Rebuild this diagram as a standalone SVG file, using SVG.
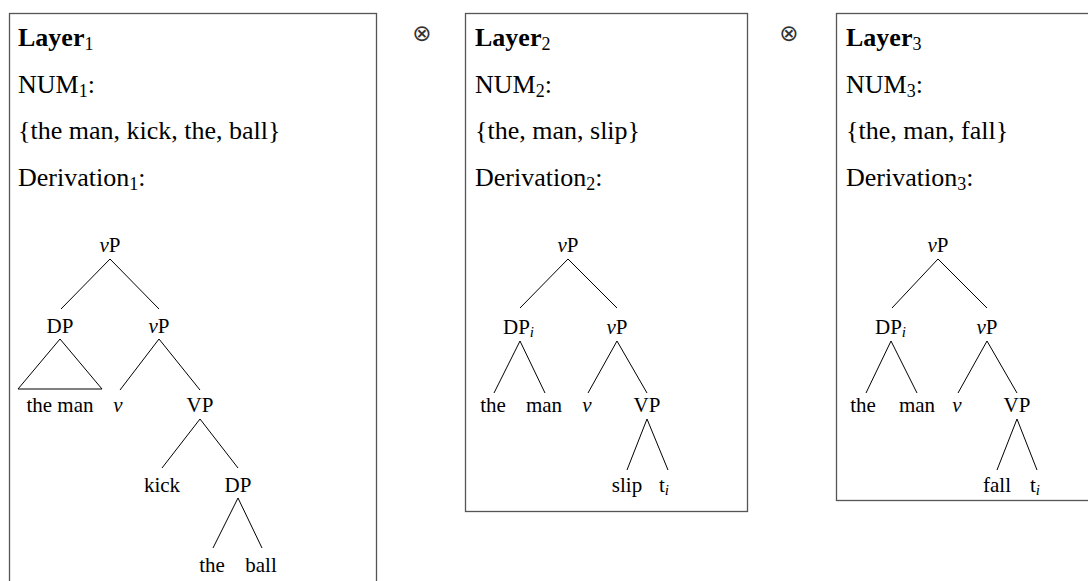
<svg xmlns="http://www.w3.org/2000/svg" width="1088" height="581" viewBox="0 0 1088 581">
<style>
.box{fill:none;stroke:#555;stroke-width:1.3}
.hd{font-family:"Liberation Serif","Times New Roman",serif;font-size:26px;fill:#000}
.b{font-weight:bold}
.sub{font-size:18px;font-weight:normal}
.lb{font-family:"Liberation Serif","Times New Roman",serif;font-size:21px;fill:#000;text-anchor:middle}
.lbs{font-family:"Liberation Serif","Times New Roman",serif;font-size:21px;fill:#000}
.it{font-style:italic}
.si{font-size:15px;font-style:italic}
.ot{font-family:"DejaVu Sans",sans-serif;font-size:23px;fill:#333;text-anchor:middle}
.ln{stroke:#000;stroke-width:1;fill:none}
</style>
<rect width="1088" height="581" fill="#fff"/>

<g id="layer1">
<rect class="box" x="9.5" y="13.5" width="367" height="600"/>
<text class="hd" x="18" y="46"><tspan class="b">Layer</tspan><tspan class="sub" dy="4">1</tspan></text>
<text class="hd" x="18" y="93">NUM<tspan class="sub" dy="4">1</tspan><tspan dy="-4">:</tspan></text>
<text class="hd" x="18" y="139">{the man, kick, the, ball}</text>
<text class="hd" x="18" y="186">Derivation<tspan class="sub" dy="4">1</tspan><tspan dy="-4">:</tspan></text>
<g id="t1-vP"><text class="lb" x="110" y="252"><tspan class="it">v</tspan>P</text></g>
<g id="t1-DP"><text class="lb" x="60" y="333">DP</text></g>
<g id="t1-vP2"><text class="lb" x="159" y="333"><tspan class="it">v</tspan>P</text></g>
<g id="t1-theman"><text class="lb" x="60" y="412">the man</text></g>
<g id="t1-v"><text class="lb it" x="118" y="412">v</text></g>
<g id="t1-VP"><text class="lb" x="200" y="412">VP</text></g>
<g id="t1-kick"><text class="lb" x="162" y="492">kick</text></g>
<g id="t1-DP2"><text class="lb" x="238" y="492">DP</text></g>
<g id="t1-the"><text class="lb" x="212" y="572">the</text></g>
<g id="t1-ball"><text class="lb" x="261" y="572">ball</text></g>
</g>

<g id="op1"><text class="ot" x="422" y="41">⊗</text></g>

<g id="layer2">
<rect class="box" x="465.5" y="13.5" width="282" height="498"/>
<text class="hd" x="475" y="46"><tspan class="b">Layer</tspan><tspan class="sub" dy="4">2</tspan></text>
<text class="hd" x="475" y="93">NUM<tspan class="sub" dy="4">2</tspan><tspan dy="-4">:</tspan></text>
<text class="hd" x="475" y="139">{the, man, slip}</text>
<text class="hd" x="475" y="186">Derivation<tspan class="sub" dy="4">2</tspan><tspan dy="-4">:</tspan></text>
<g id="t2-vP"><text class="lb" x="568" y="252"><tspan class="it">v</tspan>P</text></g>
<g id="t2-DPi"><text class="lbs" x="503" y="334">DP<tspan class="si" dy="3">i</tspan></text></g>
<g id="t2-vP2"><text class="lb" x="617" y="334"><tspan class="it">v</tspan>P</text></g>
<g id="t2-the"><text class="lb" x="493" y="412">the</text></g>
<g id="t2-man"><text class="lb" x="544" y="412">man</text></g>
<g id="t2-v"><text class="lb it" x="587" y="412">v</text></g>
<g id="t2-VP"><text class="lb" x="647" y="412">VP</text></g>
<g id="t2-slip"><text class="lb" x="627" y="492">slip</text></g>
<g id="t2-ti"><text class="lbs" x="659" y="492">t<tspan class="si" dy="3">i</tspan></text></g>
</g>

<g id="op2"><text class="ot" x="789" y="41">⊗</text></g>

<g id="layer3">
<rect class="box" x="836.5" y="13.5" width="260" height="487"/>
<text class="hd" x="846" y="46"><tspan class="b">Layer</tspan><tspan class="sub" dy="4">3</tspan></text>
<text class="hd" x="846" y="93">NUM<tspan class="sub" dy="4">3</tspan><tspan dy="-4">:</tspan></text>
<text class="hd" x="846" y="139">{the, man, fall}</text>
<text class="hd" x="846" y="186">Derivation<tspan class="sub" dy="4">3</tspan><tspan dy="-4">:</tspan></text>
<g id="t3-vP"><text class="lb" x="938" y="252"><tspan class="it">v</tspan>P</text></g>
<g id="t3-DPi"><text class="lbs" x="875" y="334">DP<tspan class="si" dy="3">i</tspan></text></g>
<g id="t3-vP2"><text class="lb" x="987" y="334"><tspan class="it">v</tspan>P</text></g>
<g id="t3-the"><text class="lb" x="863" y="412">the</text></g>
<g id="t3-man"><text class="lb" x="917" y="412">man</text></g>
<g id="t3-v"><text class="lb it" x="957" y="412">v</text></g>
<g id="t3-VP"><text class="lb" x="1017" y="412">VP</text></g>
<g id="t3-fall"><text class="lb" x="997" y="492">fall</text></g>
<g id="t3-ti"><text class="lbs" x="1030" y="492">t<tspan class="si" dy="3">i</tspan></text></g>
</g>

<g id="connectors" class="ln">
<path class="ln" d="M110,259L61,309M110,259L159,309"/>
<path class="ln" d="M60,339L18,389L102,389Z"/>
<path class="ln" d="M159,339L120,390M159,339L200,390"/>
<path class="ln" d="M200,419L162,468M200,419L238,468"/>
<path class="ln" d="M238,498L213,548M238,498L262,548"/>

<path class="ln" d="M568,259L520,308M568,259L617,308"/>
<path class="ln" d="M520,341L494,393M520,341L545,393"/>
<path class="ln" d="M617,341L588,393M617,341L647,393"/>
<path class="ln" d="M647,419L627,470M647,419L668,470"/>

<path class="ln" d="M938,259L892,308M938,259L987,308"/>
<path class="ln" d="M891,341L866,393M891,341L917,393"/>
<path class="ln" d="M987,341L958,393M987,341L1017,393"/>
<path class="ln" d="M1017,419L997,470M1017,419L1037,470"/>
</g>
</svg>
